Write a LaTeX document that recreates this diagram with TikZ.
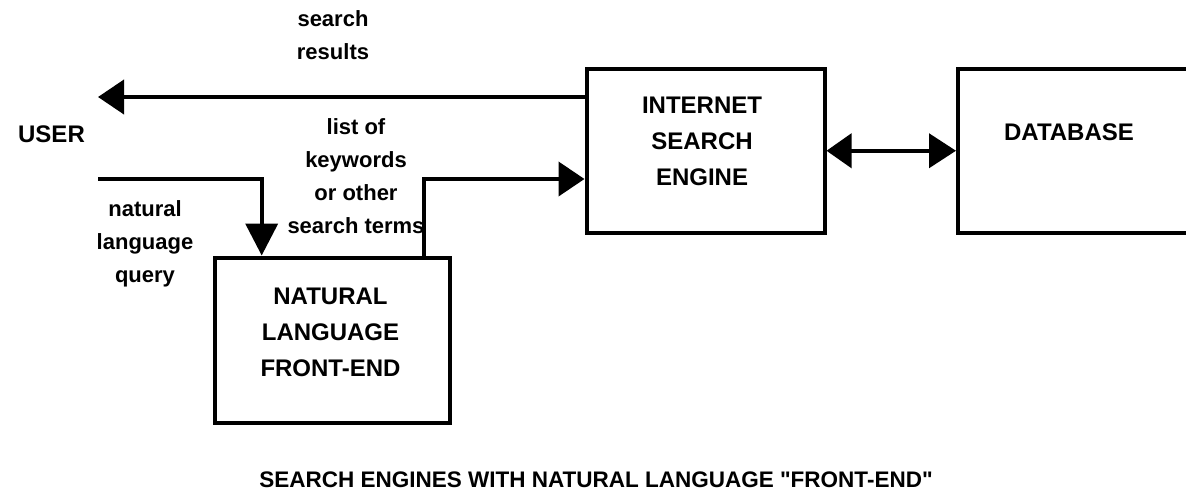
\documentclass[tikz,border=0pt]{standalone}
\usepackage{fontspec}
\setmainfont{Liberation Sans}[Ligatures=TeXOff]
\usetikzlibrary{arrows.meta}

\begin{document}
\begin{tikzpicture}[x=1pt, y=-1pt,
  box/.style={draw, line width=4pt, inner sep=0pt},
  boxtext/.style={font=\bfseries\fontsize{24}{36}\selectfont, align=center, inner sep=0pt},
  note/.style={font=\bfseries\fontsize{22}{33}\selectfont, align=center, inner sep=0pt},
  flow/.style={line width=4pt, -{Triangle[length=26pt, width=34pt]}},
  flowdown/.style={line width=4pt, -{Triangle[length=32pt, width=32pt]}},
  both/.style={line width=4pt, {Triangle[length=25pt, width=34pt]}-{Triangle[length=27pt, width=34pt]}}]

  \useasboundingbox (0,0) rectangle (1186,491);
  \clip (0,0) rectangle (1186,491);

  % blocks
  \node[box, minimum width=238pt, minimum height=164.5pt] (ise)  at (705.5,150.75) {};
  \node[box, minimum width=260pt, minimum height=164.5pt] (db)   at (1088,150.75) {};
  \node[box, minimum width=235pt, minimum height=165.8pt] (nlfe) at (332.8,340.4) {};

  % block captions
  \node[boxtext] (ise-text)  at (702,141.7)   {INTERNET\\SEARCH\\ENGINE};
  \node[boxtext] (db-text)   at (1069,132.7)  {DATABASE};
  \node[boxtext] (nlfe-text) at (330.5,332.7) {NATURAL\\LANGUAGE\\FRONT-END};
  \node[boxtext] (user)      at (51.5,134.5)  {USER};

  % flow labels
  \node[note] (res-label)   at (333,35.2)  {search\\results};
  \node[note] (kw-label)    at (356,176.5) {list of\\keywords\\or other\\search terms};
  \node[note] (query-label) at (145,243.5) {natural\\language\\query};

  % title
  \node[font=\bfseries\fontsize{22.5}{27}\selectfont, inner sep=0pt] (title) at (596,480)
    {SEARCH ENGINES WITH NATURAL LANGUAGE "FRONT-END"};

  % connectors
  \coordinate (res-end)     at (98,97);
  \coordinate (query-start) at (98,179);
  \coordinate (query-bend)  at (261.7,179);
  \coordinate (kw-bend)     at (424.3,179);

  \draw[flow] (ise.west |- res-end) -- (res-end);
  \draw[flowdown] (query-start) -- (query-bend) -- (query-bend |- nlfe.north);
  \draw[flow] (kw-bend |- nlfe.north) -- (kw-bend) -- (kw-bend -| ise.west);
  \draw[both] (ise.east) -- (db.west);
\end{tikzpicture}
\end{document}
